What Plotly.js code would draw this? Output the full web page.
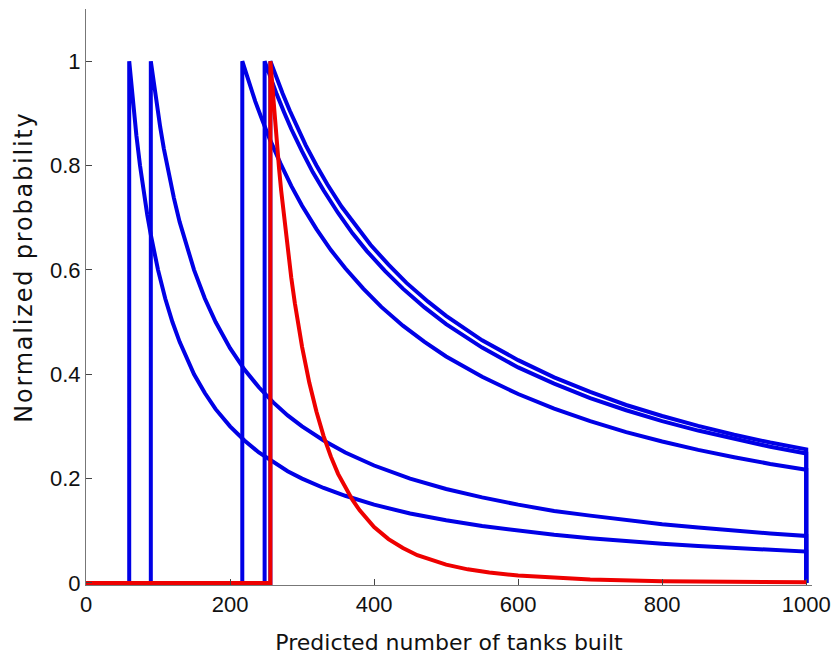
<!DOCTYPE html>
<html>
<head>
<meta charset="utf-8">
<script src="https://cdn.plot.ly/plotly-3.0.1.min.js"></script>
<style>
html,body{margin:0;padding:0;background:#fff;}
#chart{width:835px;height:655px;}
#chart .annotation-text{letter-spacing:1.8px;}
</style>
</head>
<body>
<div id="chart"></div>
<script>
const xA = [0, 60, 60, 63, 66, 70, 75, 80, 85, 90, 95, 100, 110, 120, 130, 140, 150, 165, 180, 200, 220, 240, 260, 280, 300, 330, 360, 400, 450, 500, 550, 600, 650, 700, 750, 800, 850, 900, 950, 1000, 1000];
const yA = [0, 0, 1, 0.952, 0.909, 0.857, 0.8, 0.75, 0.706, 0.667, 0.632, 0.6, 0.545, 0.5, 0.462, 0.429, 0.4, 0.364, 0.333, 0.3, 0.273, 0.25, 0.231, 0.214, 0.2, 0.182, 0.167, 0.15, 0.133, 0.12, 0.109, 0.1, 0.0923, 0.0857, 0.08, 0.075, 0.0706, 0.0667, 0.0632, 0.06, 0];

const xB = [0, 90, 90, 94, 98, 103, 108, 115, 122, 130, 140, 150, 165, 180, 200, 220, 240, 260, 280, 300, 330, 360, 400, 450, 500, 550, 600, 650, 700, 750, 800, 850, 900, 950, 1000, 1000];
const yB = [0, 0, 1, 0.957, 0.918, 0.874, 0.833, 0.783, 0.738, 0.692, 0.643, 0.6, 0.545, 0.5, 0.45, 0.409, 0.375, 0.346, 0.321, 0.3, 0.273, 0.25, 0.225, 0.2, 0.18, 0.164, 0.15, 0.138, 0.129, 0.12, 0.1125, 0.106, 0.1, 0.0947, 0.09, 0];

const xC = [0, 217, 217, 225, 235, 245, 255, 270, 285, 300, 320, 340, 360, 385, 410, 440, 470, 500, 550, 600, 650, 700, 750, 800, 850, 900, 950, 1000, 1000];
const yC = [0, 0, 1, 0.964, 0.923, 0.886, 0.851, 0.804, 0.761, 0.723, 0.678, 0.638, 0.603, 0.564, 0.529, 0.493, 0.462, 0.434, 0.395, 0.362, 0.334, 0.31, 0.289, 0.271, 0.255, 0.241, 0.228, 0.217, 0];

const xD = [0, 248, 248, 256, 265, 275, 285, 300, 315, 330, 350, 370, 390, 415, 440, 470, 500, 550, 600, 650, 700, 750, 800, 850, 900, 950, 1000, 1000];
const yD = [0, 0, 1, 0.969, 0.936, 0.902, 0.87, 0.827, 0.787, 0.752, 0.709, 0.67, 0.636, 0.598, 0.564, 0.528, 0.496, 0.451, 0.413, 0.382, 0.354, 0.331, 0.31, 0.292, 0.276, 0.261, 0.248, 0];

const xE = [0, 256, 256, 264, 273, 283, 293, 305, 320, 335, 355, 375, 395, 420, 445, 475, 500, 550, 600, 650, 700, 750, 800, 850, 900, 950, 1000, 1000];
const yE = [0, 0, 1, 0.97, 0.938, 0.905, 0.874, 0.839, 0.8, 0.764, 0.721, 0.683, 0.648, 0.61, 0.575, 0.539, 0.512, 0.465, 0.427, 0.394, 0.366, 0.341, 0.32, 0.301, 0.284, 0.269, 0.256, 0];

// Red curve: combined estimate
const xR = [0, 256, 256, 257, 258, 260, 262, 265, 268, 271, 275, 280, 285, 290, 295, 300, 310, 320, 330, 340, 350, 360, 370, 380, 390, 400, 420, 440, 460, 480, 500, 530, 560, 600, 650, 700, 800, 900, 1000];
const yR = [0, 0, 1, 0.981, 0.962, 0.925, 0.891, 0.841, 0.795, 0.752, 0.699, 0.639, 0.585, 0.536, 0.492, 0.4525, 0.384, 0.328, 0.281, 0.242, 0.209, 0.182, 0.159, 0.139, 0.122, 0.107, 0.084, 0.067, 0.053, 0.043, 0.035, 0.026, 0.02, 0.014, 0.0095, 0.0065, 0.0034, 0.0019, 0.0011];

const xTicks = [0, 200, 400, 600, 800, 1000];
const yTicks = [0, 0.2, 0.4, 0.6, 0.8, 1];
const yTickText = ['0', '0.2', '0.4', '0.6', '0.8', '1'];

const xTitle = 'Predicted number of tanks built';
const yTitle = 'Normalized probability';

const BLUE = '#0000e6';
const RED = '#ee0000';
const LW = 4;

const blueSets = [[xA, yA], [xB, yB], [xC, yC], [xD, yD], [xE, yE]];
const traces = blueSets.map(([x, y]) => ({
  x: x, y: y, type: 'scatter', mode: 'lines',
  line: {color: BLUE, width: LW}, hoverinfo: 'skip', showlegend: false
}));
traces.push({x: xR, y: yR, type: 'scatter', mode: 'lines',
  line: {color: RED, width: LW}, hoverinfo: 'skip', showlegend: false});

const tickFont = {family: 'Liberation Sans, Arial, sans-serif', size: 22, color: '#111'};

const layout = {
  width: 835, height: 655,
  margin: {l: 86, r: 23, t: 9, b: 70},
  paper_bgcolor: '#ffffff', plot_bgcolor: '#ffffff',
  showlegend: false,
  font: {family: 'Liberation Sans, Arial, sans-serif', size: 22, color: '#111'},
  xaxis: {
    range: [0, 1008], tickvals: xTicks, ticktext: xTicks.map(String),
    showgrid: false, zeroline: false, showline: true, linecolor: '#777', linewidth: 1,
    ticks: 'inside', ticklen: 6, tickcolor: '#444', tickwidth: 1,
    tickfont: tickFont, automargin: false,
    title: {text: xTitle, standoff: 20,
      font: {family: 'DejaVu Sans, sans-serif', size: 22, color: '#111'}}
  },
  yaxis: {
    range: [-0.004, 1.1], tickvals: yTicks, ticktext: yTickText,
    showgrid: false, zeroline: false, showline: true, linecolor: '#777', linewidth: 1,
    ticks: 'inside', ticklen: 6, tickcolor: '#444', tickwidth: 1,
    tickfont: tickFont, automargin: false
  },
  annotations: [{
    text: yTitle, textangle: -90, showarrow: false,
    xref: 'paper', yref: 'paper', x: -62 / 726, y: 318 / 576,
    xanchor: 'center', yanchor: 'middle',
    font: {family: 'DejaVu Sans, sans-serif', size: 24, color: '#111'}
  }]
};

Plotly.newPlot('chart', traces, layout, {displayModeBar: false, staticPlot: true});
</script>
</body>
</html>
